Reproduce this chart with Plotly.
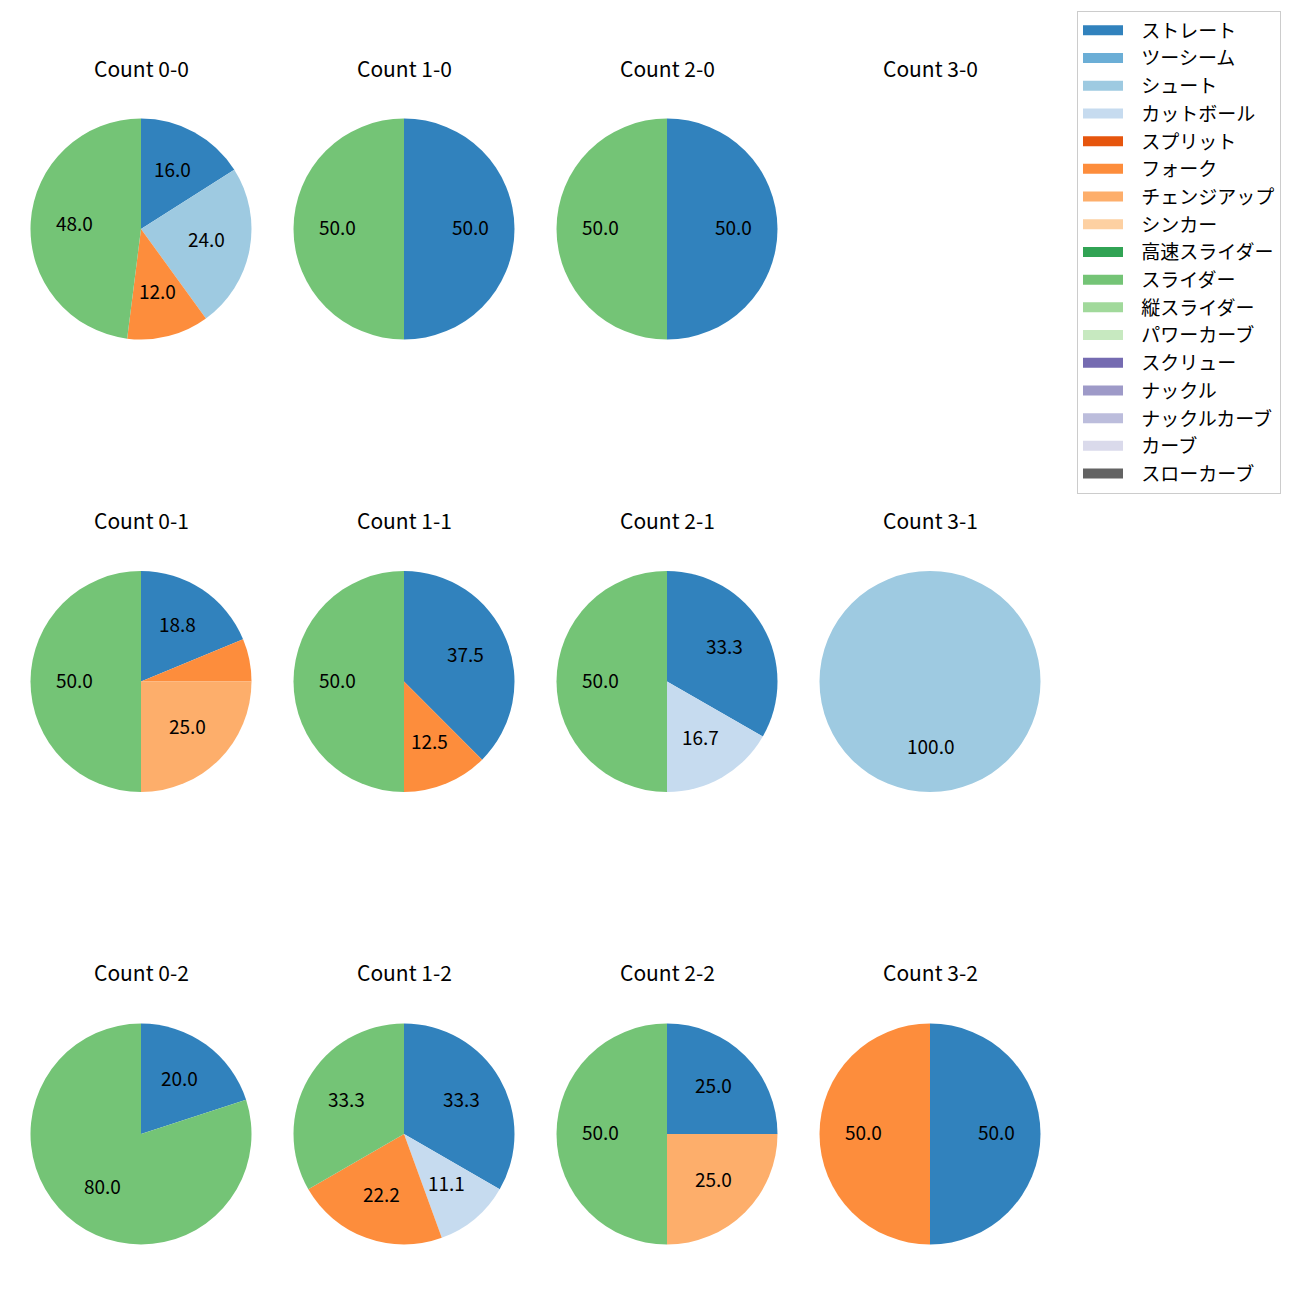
import math
import plotly.graph_objects as go

pitch_types = ["ストレート", "ツーシーム", "シュート", "カットボール", "スプリット", "フォーク",
               "チェンジアップ", "シンカー", "高速スライダー", "スライダー", "縦スライダー",
               "パワーカーブ", "スクリュー", "ナックル", "ナックルカーブ", "カーブ", "スローカーブ"]
pitch_colors = ["#3182bd", "#6baed6", "#9ecae1", "#c6dbef", "#e6550d", "#fd8d3c",
                "#fdae6b", "#fdd0a2", "#31a354", "#74c476", "#a1d99b", "#c7e9c0",
                "#756bb1", "#9e9ac8", "#bcbddc", "#dadaeb", "#636363"]

titles = ["Count 0-0", "Count 1-0", "Count 2-0", "Count 3-0",
          "Count 0-1", "Count 1-1", "Count 2-1", "Count 3-1",
          "Count 0-2", "Count 1-2", "Count 2-2", "Count 3-2"]

pie_labels = [
    ["ストレート", "シュート", "フォーク", "スライダー"],
    ["ストレート", "スライダー"],
    ["ストレート", "スライダー"],
    [],
    ["ストレート", "フォーク", "チェンジアップ", "スライダー"],
    ["ストレート", "フォーク", "スライダー"],
    ["ストレート", "カットボール", "スライダー"],
    ["シュート"],
    ["ストレート", "スライダー"],
    ["ストレート", "カットボール", "フォーク", "スライダー"],
    ["ストレート", "チェンジアップ", "スライダー"],
    ["ストレート", "フォーク"],
]
pie_values = [
    [16.0, 24.0, 12.0, 48.0],
    [50.0, 50.0],
    [50.0, 50.0],
    [],
    [18.75, 6.25, 25.0, 50.0],
    [37.5, 12.5, 50.0],
    [33.3, 16.7, 50.0],
    [100.0],
    [20.0, 80.0],
    [33.3, 11.1, 22.2, 33.3],
    [25.0, 25.0, 50.0],
    [50.0, 50.0],
]

W = H = 1300
OFF = 8  # page body margin
col_cx = [141, 404, 667, 930]
row_cy = [229, 681.5, 1134]
R = 110.5
title_y = [68, 520, 972]
FONT = "Noto Sans CJK JP, Noto Sans, sans-serif"
color_map = dict(zip(pitch_types, pitch_colors))


def px(x):
    return (x - OFF) / W


def py(y):
    return 1 - (y - OFF) / H


fig = go.Figure()
annotations = []
for i, (labels, vals) in enumerate(zip(pie_labels, pie_values)):
    r, c = divmod(i, 4)
    cx, cy = col_cx[c], row_cy[r]
    annotations.append(dict(text=titles[i], x=px(cx), y=py(title_y[r]), xref="paper", yref="paper",
                            showarrow=False, xanchor="center", yanchor="middle",
                            font=dict(size=21, color="#000", family=FONT)))
    if not vals:
        continue
    tot = sum(vals)
    fig.add_trace(go.Pie(
        labels=labels, values=vals, sort=False, direction="clockwise", rotation=0,
        marker=dict(colors=[color_map[l] for l in labels], line=dict(width=0)),
        textinfo="none",
        domain=dict(x=[px(cx - R), px(cx + R)], y=[py(cy + R), py(cy - R)]),
        showlegend=False, hoverinfo="label+percent",
    ))
    # percentage labels placed like matplotlib autopct (0.6 of radius, mid-angle)
    cum = 0.0
    for v in vals:
        pct = v / tot * 100
        theta = math.radians(90 - 360 * (cum + v / 2) / tot)
        cum += v
        if pct < 10:
            continue
        tx = cx + 0.6 * R * math.cos(theta)
        ty = cy - 0.6 * R * math.sin(theta) - 2.5
        annotations.append(dict(text=f"{pct:.1f}", x=px(tx), y=py(ty), xref="paper", yref="paper",
                                showarrow=False, xanchor="center", yanchor="middle",
                                font=dict(size=19, color="#000", family=FONT)))

for name, col in zip(pitch_types, pitch_colors):
    fig.add_trace(go.Scatter(x=[None], y=[None], mode="lines", name="\u2002\u2009" + name,
                             line=dict(color=col, width=13), showlegend=True, hoverinfo="skip"))

fig.update_layout(
    width=W, height=H, template="none",
    paper_bgcolor="white", plot_bgcolor="white",
    margin=dict(l=0, r=0, t=0, b=0),
    xaxis=dict(visible=False, domain=[0, 0.001]), yaxis=dict(visible=False, domain=[0, 0.001]),
    annotations=annotations,
    legend=dict(x=px(1077), y=py(10.5), xanchor="left", yanchor="top",
                bordercolor="#cccccc", borderwidth=1, bgcolor="white",
                font=dict(size=19, family=FONT, color="#000"),
                traceorder="normal", itemwidth=40),
)
fig.write_html("out.html")
